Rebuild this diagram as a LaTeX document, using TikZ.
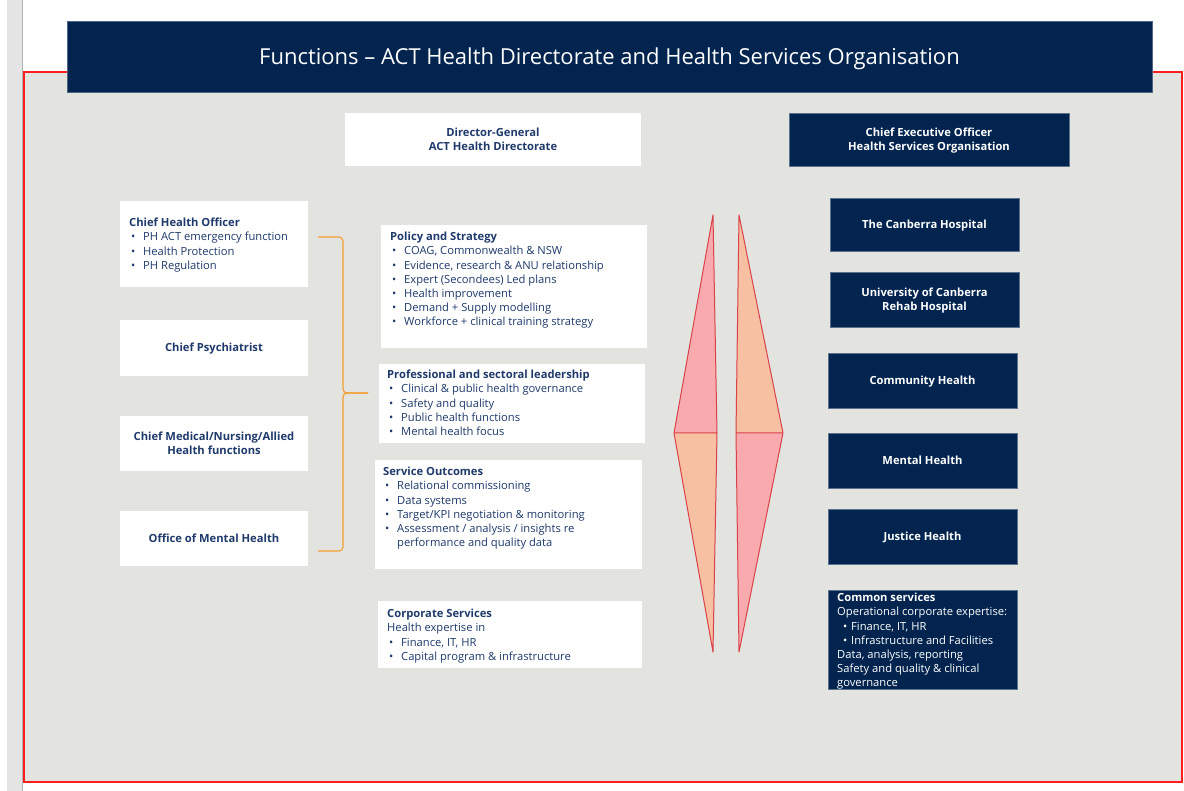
\documentclass[tikz,border=0pt]{standalone}
\usepackage{fontspec}
\setmainfont{Open Sans}
\definecolor{navy}{HTML}{02244F}
\definecolor{panel}{HTML}{E3E3DF}
\definecolor{strip}{HTML}{E4E4E4}
\definecolor{frame}{HTML}{FF1E1E}
\definecolor{ink}{HTML}{1F3A6B}
\definecolor{brace}{HTML}{F4A036}
\definecolor{pinkfill}{HTML}{F8AAAE}
\definecolor{peachfill}{HTML}{F7C0A2}
\definecolor{edge}{HTML}{D8424A}
\newcommand{\itm}{\makebox[14pt][l]{\hspace{2pt}•}}
\newcommand{\itmc}{\makebox[14pt][l]{\hspace{6pt}•}}
\newcommand{\hd}[1]{{\fontsize{11.2}{14.2}\selectfont\bfseries #1}}
% fixed struts so that centred labels sit on the middle of their capitals
\newcommand{\tp}{\rule{0pt}{12pt}}
\newcommand{\bt}{\rule[-4pt]{0pt}{4pt}}
\tikzset{
  sz/.style 2 args={minimum width=#1pt, minimum height=#2pt},
  wbox/.style={fill=white, draw=none, inner sep=0pt},
  nbox/.style={fill=navy, draw=navy!65!white, line width=0.6pt, inner sep=0pt,
    text=white, align=center, font=\fontsize{11.2}{14}\selectfont\bfseries},
  wtitle/.style={text=ink, align=center, font=\fontsize{11.2}{14}\selectfont\bfseries},
  listtext/.style={anchor=north west, inner sep=0pt, align=left, text=ink,
    font=\fontsize{11.2}{14.2}\selectfont},
  bracket/.style={draw=brace, line width=1.2pt, rounded corners=4pt},
  wedge/.style={draw=edge, line width=1pt, line join=round},
}
\begin{document}
\begin{tikzpicture}[x=1pt,y=-1pt]
\useasboundingbox (0,0) rectangle (1184,791);
\fill[white] (0,0) rectangle (1184,791);
% left margin strip
\fill[strip] (7,0) rectangle (22,791);
\draw[gray!60, line width=0.8pt] (22,0) -- (22,791);
% red frame with grey panel
\draw[frame, fill=panel, line width=2pt] (24,72) rectangle (1182,782);
% title bar
\node[fill=navy, draw=navy!70!white, line width=0.5pt, inner sep=0pt, sz={1085}{71},
  text=white, font=\fontsize{22}{26}\selectfont] (title) at (609.5,56.5)
  {\rule{0pt}{22pt}\rule[-6.3pt]{0pt}{6.3pt}Functions – ACT Health Directorate and Health Services Organisation};

% heads of the two organisations
\node[wbox, wtitle, sz={296}{53}] (dg) at (493,139.5) {\tp Director-General\\\bt ACT Health Directorate};
\node[nbox, sz={280}{53}] (ceo) at (929,139.5) {\tp Chief Executive Officer\\\bt Health Services Organisation};

% left column
\node[wbox, sz={188}{86}] (cho) at (214,244) {};
\node[listtext] (cho-t) at (129,218) {\hd{Chief Health Officer}\\
  \itm PH ACT emergency function\\
  \itm Health Protection\\
  \itm PH Regulation};
\node[wbox, wtitle, sz={188}{56}] (cp) at (214,348) {\tp\bt Chief Psychiatrist};
\node[wbox, wtitle, sz={188}{55}] (cm) at (214,443.5) {\tp Chief Medical/Nursing/Allied\\\bt Health functions};
\node[wbox, wtitle, sz={188}{55}] (omh) at (214,538.5) {\tp\bt Office of Mental Health};

% middle column
\node[wbox, sz={266}{123}] (ps) at (514,286.5) {};
\node[listtext] (ps-t) at (390,232) {\hd{Policy and Strategy}\\
  \itm COAG, Commonwealth \& NSW\\
  \itm Evidence, research \& ANU relationship\\
  \itm Expert (Secondees) Led plans\\
  \itm Health improvement\\
  \itm Demand + Supply modelling\\
  \itm Workforce + clinical training strategy};
\node[wbox, sz={266}{79}] (psl) at (512,403.5) {};
\node[listtext] (psl-t) at (387,370) {\hd{Professional and sectoral leadership}\\
  \itm Clinical \& public health governance\\
  \itm Safety and quality\\
  \itm Public health functions\\
  \itm Mental health focus};
\node[wbox, sz={267}{109}] (so) at (508.5,514.5) {};
\node[listtext] (so-t) at (383,467) {\hd{Service Outcomes}\\
  \itm Relational commissioning\\
  \itm Data systems\\
  \itm Target/KPI negotiation \& monitoring\\
  \itm Assessment / analysis / insights re\\
  \hspace*{14pt}performance and quality data};
\node[wbox, sz={264}{67}] (corp) at (510,634.5) {};
\node[listtext] (corp-t) at (387,609) {\hd{Corporate Services}\\
  Health expertise in\\
  \itm Finance, IT, HR\\
  \itm Capital program \& infrastructure};

% right column
\node[nbox, sz={189}{53}] (tch) at (924.5,224.5) {\tp\bt The Canberra Hospital};
\node[nbox, sz={189}{55}] (ucr) at (924.5,299.5) {\tp University of Canberra\\\bt Rehab Hospital};
\node[nbox, sz={189}{55}] (ch) at (922.5,380.5) {\tp\bt Community Health};
\node[nbox, sz={189}{55}] (mh) at (922.5,460.5) {\tp\bt Mental Health};
\node[nbox, sz={189}{55}] (jh) at (922.5,536.5) {\tp\bt Justice Health};
\node[nbox, sz={189}{99}] (cs) at (922.5,639.5) {};
\node[listtext, text=white] (cs-t) at (837,593) {\hd{Common services}\\
  Operational corporate expertise:\\
  \itmc Finance, IT, HR\\
  \itmc Infrastructure and Facilities\\
  Data, analysis, reporting\\
  Safety and quality \& clinical\\
  governance};

% brace grouping the statutory offices
\coordinate (br-top) at (318,237);
\coordinate (br-bot) at (318,551);
\coordinate (br-tip) at (368,393);
\draw[bracket] (br-top) -| (343,393) -- (br-tip);
\draw[bracket] (br-bot) -| (343,393) -- (br-tip);

% twin half-diamonds between the two organisations
\coordinate (t1) at (713,215); \coordinate (r1) at (717,433);
\coordinate (b1) at (713,652); \coordinate (l1) at (674,433);
\coordinate (t2) at (739,215); \coordinate (l2) at (736,433);
\coordinate (b2) at (739,652); \coordinate (r2) at (783,433);
\fill[pinkfill] (t1) -- (r1) -- (l1) -- cycle;
\fill[peachfill] (l1) -- (r1) -- (b1) -- cycle;
\draw[wedge] (t1) -- (r1) -- (b1) -- (l1) -- cycle (l1) -- (r1);
\fill[peachfill] (t2) -- (r2) -- (l2) -- cycle;
\fill[pinkfill] (l2) -- (r2) -- (b2) -- cycle;
\draw[wedge] (t2) -- (r2) -- (b2) -- (l2) -- cycle (l2) -- (r2);
\end{tikzpicture}
\end{document}
